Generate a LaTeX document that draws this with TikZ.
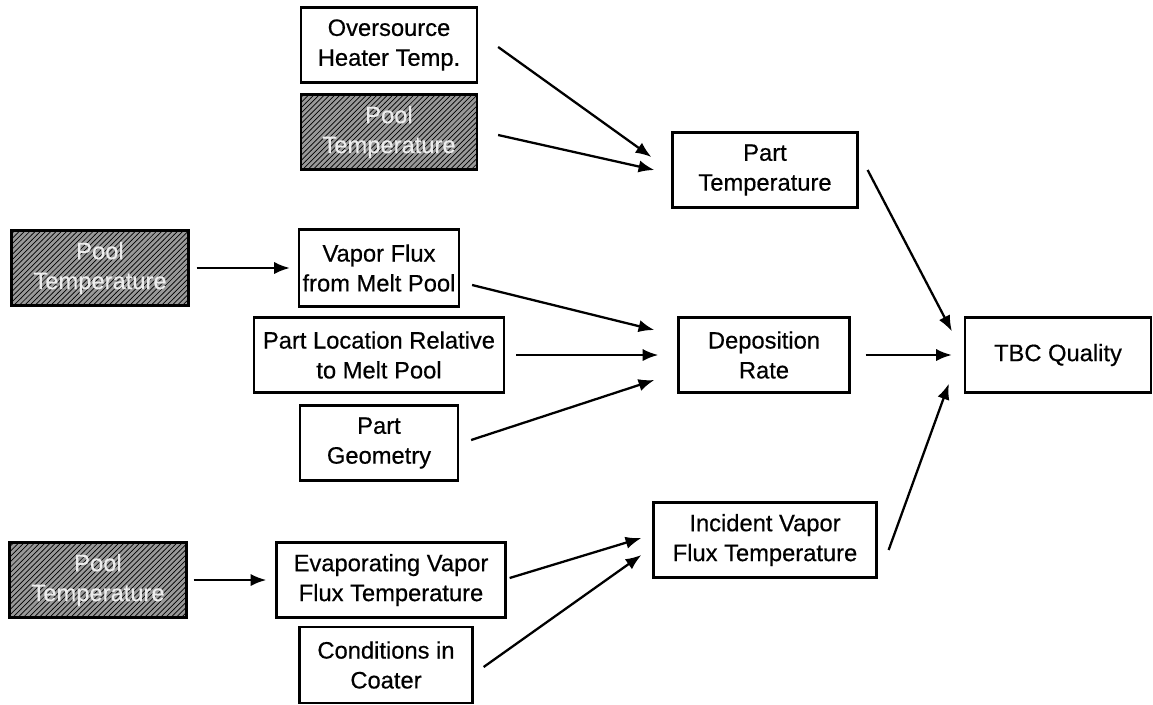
\documentclass[tikz,border=0pt]{standalone}
\usepackage{fontspec}
\setmainfont{Liberation Sans}
\newfontfamily\boxfont[FakeBold=0.5]{Liberation Sans}
\usepackage{tikz}
\usetikzlibrary{positioning, patterns, arrows.meta}
\tikzstyle{factorbox} = [draw, line width=1.3pt,
minimum height = 1.5cm, align=center,
inner sep = 2pt, font=\boxfont\fontsize{13.5}{17}\selectfont]
\tikzstyle{poolbox} = [factorbox, text=gray!15,
preaction={fill=gray!80},
pattern=north east lines, pattern color=black]
\tikzstyle{effect} = [-{Latex[length=9pt, width=7pt]}, line width=1.3pt]

\begin{document}
\begin{tikzpicture}[x=0.02cm, y=-0.02cm]
	\useasboundingbox (0, 0) rectangle (1153, 704);
	\coordinate (a) at (389, 45);
	\coordinate (b) at (389, 132);
	\coordinate (c) at (765, 170);
	\coordinate (d) at (100, 268);
	\coordinate (e) at (379, 268);
	\coordinate (f) at (379, 355);
	\coordinate (g) at (764, 355);
	\coordinate (h) at (1058, 355);
	\coordinate (i) at (379, 443);
	\coordinate (j) at (765, 540);
	\coordinate (k) at (98, 580);
	\coordinate (l) at (391, 580);
	\coordinate (m) at (386, 665);
	%% Part temperature branch
	\node[factorbox, minimum width=3.52cm](heater) at (a) {Oversource\\Heater Temp.};
	\node[poolbox, minimum width=3.52cm](poolTop) at (b) {Pool\\Temperature};
	\node[factorbox, minimum width=3.7cm](partTemp) at (c) {Part\\Temperature};
	%% Deposition rate branch
	\node[poolbox, minimum width=3.54cm](poolMid) at (d) {Pool\\Temperature};
	\node[factorbox, minimum width=3.16cm, minimum height=1.54cm](vaporFlux) at (e) {Vapor Flux\\from Melt Pool};
	\node[factorbox, minimum width=5.0cm](partLoc) at (f) {Part Location Relative\\to Melt Pool};
	\node[factorbox, minimum width=3.42cm](depRate) at (g) {Deposition\\Rate};
	\node[factorbox, minimum width=3.16cm](partGeom) at (i) {Part\\Geometry};
	\node[factorbox, minimum width=3.72cm](tbc) at (h) {TBC Quality};
	%% Vapor temperature branch
	\node[factorbox, minimum width=4.46cm](incident) at (j) {Incident Vapor\\Flux Temperature};
	\node[poolbox, minimum width=3.54cm](poolLow) at (k) {Pool\\Temperature};
	\node[factorbox, minimum width=4.58cm](evapFlux) at (l) {Evaporating Vapor\\Flux Temperature};
	\node[factorbox, minimum width=3.46cm, minimum height=1.52cm](coater) at (m) {Conditions in\\Coater};
	%% Inputs to part temperature
	\draw[effect] ([xshift=0.4cm, yshift=-0.04cm]heater.east) -- ([xshift=-0.4cm, yshift=0.26cm]partTemp.west);
	\draw[effect] ([xshift=0.4cm, yshift=-0.06cm]poolTop.east) -- ([xshift=-0.34cm]partTemp.west);
	%% Inputs to deposition rate
	\draw[effect] ([xshift=0.14cm]poolMid.east) -- ([xshift=-0.16cm]vaporFlux.west);
	\draw[effect] ([xshift=0.24cm, yshift=-0.34cm]vaporFlux.east) -- ([xshift=-0.46cm, yshift=0.5cm]depRate.west);
	\draw[effect] ([xshift=0.22cm]partLoc.east) -- ([xshift=-0.38cm]depRate.west);
	\draw[effect] ([xshift=0.24cm, yshift=0.06cm]partGeom.east) -- ([xshift=-0.46cm, yshift=-0.5cm]depRate.west);
	%% Inputs to incident vapor temperature
	\draw[effect] ([xshift=0.12cm]poolLow.east) -- ([xshift=-0.18cm]evapFlux.west);
	\draw[effect] ([xshift=0.06cm, yshift=0.04cm]evapFlux.east) -- ([xshift=-0.22cm, yshift=0.04cm]incident.west);
	\draw[effect] ([xshift=0.2cm, yshift=-0.04cm]coater.east) -- ([xshift=-0.22cm, yshift=-0.3cm]incident.west);
	%% Everything to TBC quality
	\draw[effect] ([xshift=0.18cm]partTemp.east) -- ([xshift=-0.24cm, yshift=-0.3cm]tbc.north west);
	\draw[effect] ([xshift=0.3cm]depRate.east) -- ([xshift=-0.24cm]tbc.west);
	\draw[effect] ([xshift=0.22cm, yshift=-0.2cm]incident.east) -- ([xshift=-0.3cm, yshift=0.2cm]tbc.south west);
\end{tikzpicture}
\end{document}
